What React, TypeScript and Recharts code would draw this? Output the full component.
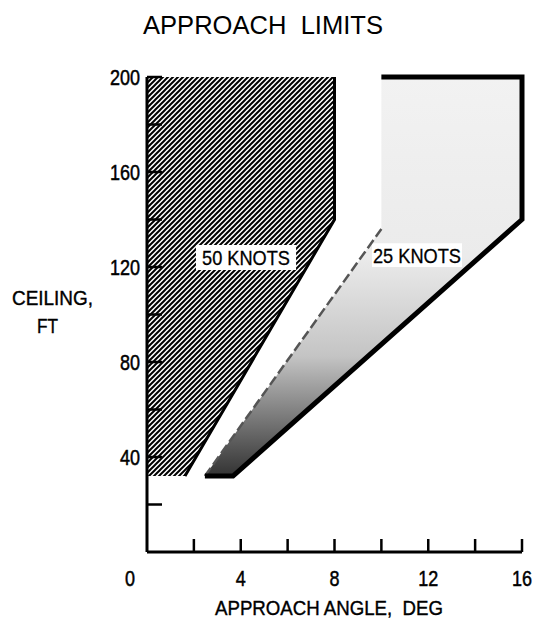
import React from 'react';
import { ComposedChart, Area, Line, XAxis, YAxis, ReferenceArea } from 'recharts';

// ---- axes ----
const xTicks = [0, 2, 4, 6, 8, 10, 12, 14, 16];
const xTickLabels = [0, 4, 8, 12, 16];
const yTicks = [0, 20, 40, 60, 80, 100, 120, 140, 160, 180, 200];
const yTickLabels = [40, 80, 120, 160, 200];

// ---- 50 knots limit region (hatched) : [angle, [low ceiling, high ceiling]] ----
const fiftyKnotsRegion = [
  { angle: 0, ceiling: [32, 200] },
  { angle: 1.62, ceiling: [32, 200] },
  { angle: 8, ceiling: [140, 200] },
];
const fiftyKnotsEdge = [
  { angle: 1.62, ceiling: 32 },
  { angle: 8, ceiling: 140 },
  { angle: 8, ceiling: 200 },
];

// ---- 25 knots limit region (shaded) ----
const twentyFiveKnotsRegion = [
  { angle: 2.47, ceiling: [32, 32] },
  { angle: 3.67, ceiling: [32, 48.6] },
  { angle: 10, ceiling: [87.5, 136] },
  { angle: 10, ceiling: [87.5, 200] },
  { angle: 16, ceiling: [140, 200] },
];
const twentyFiveKnotsOuterEdge = [
  { angle: 2.47, ceiling: 32 },
  { angle: 3.67, ceiling: 32 },
  { angle: 16, ceiling: 140 },
  { angle: 16, ceiling: 200 },
  { angle: 10, ceiling: 200 },
];
const twentyFiveKnotsInnerEdge = [
  { angle: 2.47, ceiling: 32 },
  { angle: 10, ceiling: 136 },
];

// ---- region labels ----
const regionLabels = ['50 KNOTS', '25 KNOTS'];
const labelAngles = [
  [2.09, 6.36],
  [9.6, 13.44],
];
const labelCeilings = [
  [118.7, 129.3],
  [120, 130],
];

const FONT = "'Liberation Sans', Arial, sans-serif";

const XTick = (props: any) => {
  const { x, y, payload } = props;
  const v = payload.value;
  const s = String(v);
  return (
    <g>
      {v !== 0 && <line x1={x} x2={x} y1={y} y2={y - 13} stroke="#000" strokeWidth={2.5} />}
      {xTickLabels.includes(v) && (
        <text
          x={v === 0 ? x - 17 : x}
          y={y + 34}
          textAnchor="middle"
          fontFamily={FONT}
          fontSize={22.5}
          fill="#000"
          stroke="#000"
          strokeWidth={0.5}
          textLength={s.length * 10}
          lengthAdjust="spacingAndGlyphs"
        >
          {s}
        </text>
      )}
    </g>
  );
};

const YTick = (props: any) => {
  const { x, y, payload } = props;
  const v = payload.value;
  const s = String(v);
  return (
    <g>
      {v !== 0 && <line x1={x} x2={x + 15} y1={y} y2={y} stroke="#000" strokeWidth={2.5} />}
      {yTickLabels.includes(v) && (
        <text
          x={x - 7}
          y={y + 8}
          textAnchor="end"
          fontFamily={FONT}
          fontSize={22.5}
          fill="#000"
          stroke="#000"
          strokeWidth={0.5}
          textLength={s.length * 10}
          lengthAdjust="spacingAndGlyphs"
        >
          {s}
        </text>
      )}
    </g>
  );
};

const BoxLabel = (props: any) => {
  const { viewBox, text } = props;
  if (!viewBox) return null;
  const cx = viewBox.x + viewBox.width / 2;
  const cy = viewBox.y + viewBox.height / 2;
  return (
    <text
      x={cx}
      y={cy + 7.5}
      textAnchor="middle"
      fontFamily={FONT}
      fontSize={21}
      fill="#000"
      stroke="#000"
      strokeWidth={0.3}
      textLength={88}
      lengthAdjust="spacingAndGlyphs"
    >
      {text}
    </text>
  );
};

export default function App() {
  return (
    <div style={{ position: 'absolute', left: 0, top: 0, width: 538, height: 623, background: '#fff' }}>
      <ComposedChart
        width={538}
        height={623}
        margin={{ top: 77, right: 16, bottom: 41, left: 87 }}
      >
        <defs>
          <pattern id="hatch" patternUnits="userSpaceOnUse" width={5} height={5}>
            <rect width={5} height={5} fill="#fff" />
            <path d="M-1,1 l2,-2 M0,5 l5,-5 M4,6 l2,-2" stroke="#000" strokeWidth={2} />
          </pattern>
          <linearGradient id="shade25" x1="0" y1="0" x2="0" y2="1">
            <stop offset="0" stopColor="#f2f2f2" />
            <stop offset="0.45" stopColor="#ebebeb" />
            <stop offset="0.7" stopColor="#c4c4c4" />
            <stop offset="1" stopColor="#333" />
          </linearGradient>
        </defs>
        <XAxis
          type="number"
          dataKey="angle"
          domain={[0, 16]}
          ticks={xTicks}
          interval={0}
          height={30}
          tickSize={0}
          tickMargin={0}
          tickLine={false}
          axisLine={{ stroke: '#000', strokeWidth: 3 }}
          tick={<XTick />}
          allowDuplicatedCategory
        />
        <YAxis
          type="number"
          domain={[0, 200]}
          ticks={yTicks}
          interval={0}
          width={60}
          tickSize={0}
          tickMargin={0}
          tickLine={false}
          axisLine={{ stroke: '#000', strokeWidth: 3 }}
          tick={<YTick />}
        />
        <Area
          data={fiftyKnotsRegion}
          dataKey="ceiling"
          type="linear"
          fill="url(#hatch)"
          fillOpacity={1}
          stroke="none"
          isAnimationActive={false}
        />
        <Area
          data={twentyFiveKnotsRegion}
          dataKey="ceiling"
          type="linear"
          fill="url(#shade25)"
          fillOpacity={1}
          stroke="none"
          isAnimationActive={false}
        />
        <Line
          data={fiftyKnotsEdge}
          dataKey="ceiling"
          type="linear"
          stroke="#000"
          strokeWidth={3}
          dot={false}
          isAnimationActive={false}
        />
        <Line
          data={twentyFiveKnotsInnerEdge}
          dataKey="ceiling"
          type="linear"
          stroke="#555"
          strokeWidth={2.5}
          strokeDasharray="10 4"
          dot={false}
          isAnimationActive={false}
        />
        <Line
          data={twentyFiveKnotsOuterEdge}
          dataKey="ceiling"
          type="linear"
          stroke="#000"
          strokeWidth={5}
          dot={false}
          isAnimationActive={false}
        />
        {regionLabels.map((t, i) => (
          <ReferenceArea
            key={t}
            x1={labelAngles[i][0]}
            x2={labelAngles[i][1]}
            y1={labelCeilings[i][0]}
            y2={labelCeilings[i][1]}
            fill="#fff"
            fillOpacity={1}
            stroke="none"
            label={<BoxLabel text={t} />}
          />
        ))}
      </ComposedChart>
      <svg width={538} height={623} style={{ position: 'absolute', left: 0, top: 0, pointerEvents: 'none' }}>
        <text
          x={263}
          y={34}
          textAnchor="middle"
          fontFamily={FONT}
          fontSize={25}
          fill="#000"
          style={{ whiteSpace: 'pre' }}
          textLength={240}
          lengthAdjust="spacingAndGlyphs"
        >
          {'APPROACH  LIMITS'}
        </text>
        <text x={52.5} y={305} textAnchor="middle" fontFamily={FONT} fontSize={21} fill="#000" stroke="#000" strokeWidth={0.4} textLength={81} lengthAdjust="spacingAndGlyphs">
          CEILING,
        </text>
        <text x={47.5} y={333} textAnchor="middle" fontFamily={FONT} fontSize={21} fill="#000" stroke="#000" strokeWidth={0.4} textLength={21} lengthAdjust="spacingAndGlyphs">
          FT
        </text>
        <text
          x={329}
          y={615}
          textAnchor="middle"
          fontFamily={FONT}
          fontSize={21}
          fill="#000"
          stroke="#000"
          strokeWidth={0.4}
          style={{ whiteSpace: 'pre' }}
          textLength={228}
          lengthAdjust="spacingAndGlyphs"
        >
          {'APPROACH ANGLE,  DEG'}
        </text>
      </svg>
    </div>
  );
}
